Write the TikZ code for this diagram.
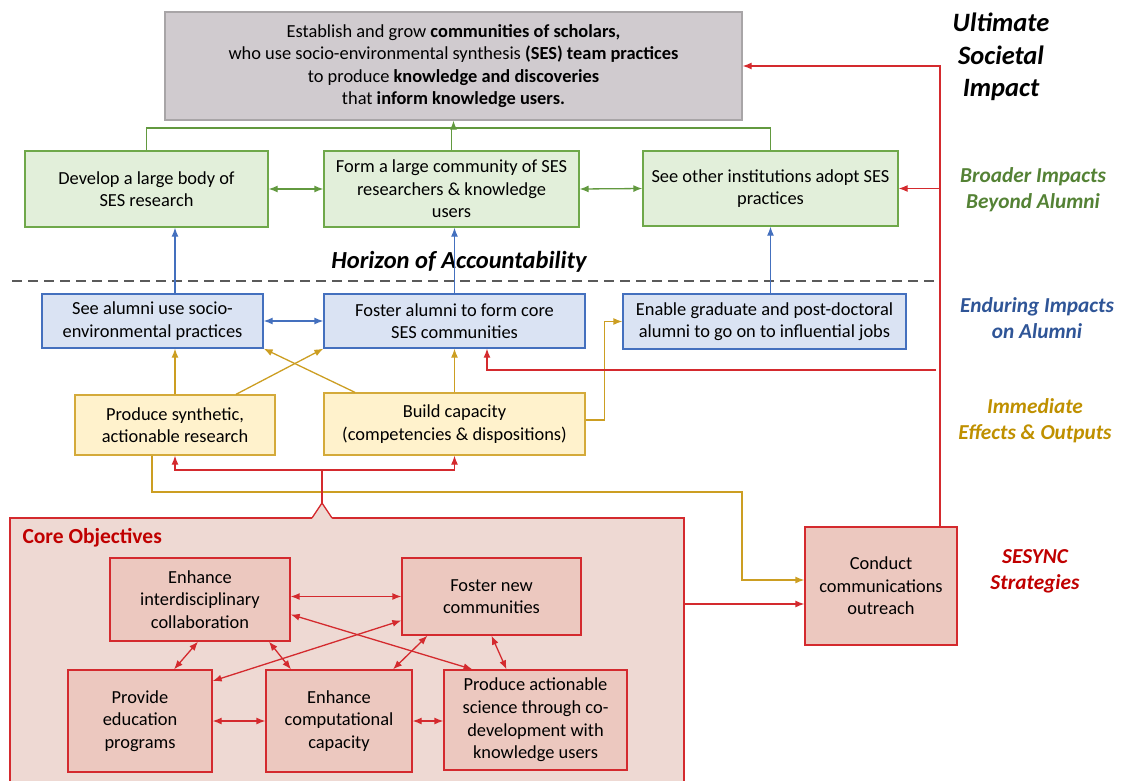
\documentclass[tikz,border=0pt]{standalone}
\usepackage{fontspec}
\setmainfont{Carlito}
\usetikzlibrary{arrows.meta,calc}

\definecolor{topfill}{HTML}{D0CBCF}
\definecolor{topdraw}{HTML}{A8A5A7}
\definecolor{greenfill}{HTML}{E2EFDA}
\definecolor{greendraw}{HTML}{6FA84A}
\definecolor{greenline}{HTML}{62993F}
\definecolor{greentext}{HTML}{548235}
\definecolor{bluefill}{HTML}{DAE3F3}
\definecolor{bluedraw}{HTML}{4470BE}
\definecolor{bluetext}{HTML}{2F5597}
\definecolor{goldfill}{HTML}{FFF2CC}
\definecolor{golddraw}{HTML}{D4AA3A}
\definecolor{goldline}{HTML}{CC9E22}
\definecolor{goldtext}{HTML}{BF9000}
\definecolor{redline}{HTML}{D42A2E}
\definecolor{redtext}{HTML}{C00000}
\definecolor{corefill}{HTML}{EED9D3}
\definecolor{objfill}{HTML}{ECC8BF}
\definecolor{dashgray}{HTML}{5A5A5A}

\begin{document}
\begin{tikzpicture}[x=1pt, y=-1pt, >={Latex[length=9pt,width=7pt]},
	every node/.style={font=\fontsize{18.4}{22.6}\selectfont, align=center},
	goal/.style={draw=topdraw, fill=topfill, line width=1.3pt},
	broad/.style={draw=greendraw, fill=greenfill, line width=1.3pt},
	alum/.style={draw=bluedraw, fill=bluefill, line width=1.3pt},
	effect/.style={draw=golddraw, fill=goldfill, line width=1.3pt},
	obj/.style={draw=redline, fill=objfill, line width=1.3pt},
	glink/.style={draw=greenline, line width=1.3pt},
	blink/.style={draw=bluedraw, line width=1.3pt},
	ylink/.style={draw=goldline, line width=1.3pt},
	rlink/.style={draw=redline, line width=1.3pt},
	tier/.style={font=\fontsize{21.3}{26}\selectfont\bfseries\itshape}]
	\useasboundingbox (0,0) rectangle (1122,780);

	% goal and broader impacts
	\node[goal, minimum width=577, minimum height=108] (goal) at (453.5,66)
		{Establish and grow \textbf{communities of scholars,}\\
		 who use socio-environmental synthesis \textbf{(SES) team practices}\\
		 to produce \textbf{knowledge and discoveries}\\
		 that \textbf{inform knowledge users.}};
	\node[broad, minimum width=243, minimum height=76] (g1) at (146.5,189) {Develop a large body of\\SES research};
	\node[broad, minimum width=255, minimum height=76] (g2) at (451.5,189) {Form a large community of SES\\researchers \& knowledge\\users};
	\node[broad, minimum width=255, minimum height=75] (g3) at (770.5,188.5) {See other institutions adopt SES\\practices};

	% alumni
	\node[alum, minimum width=221, minimum height=54] (b1) at (152.5,321) {See alumni use socio-\\environmental practices};
	\node[alum, minimum width=261, minimum height=54] (b2) at (454.5,321) {Foster alumni to form core\\SES communities};
	\node[alum, minimum width=283, minimum height=55] (b3) at (764.5,321.5) {Enable graduate and post-doctoral\\alumni to go on to influential jobs};

	% effects
	\node[effect, minimum width=200, minimum height=60] (y1) at (175,425) {Produce synthetic,\\actionable research};
	\node[effect, minimum width=261, minimum height=62] (y2) at (454.5,424) {Build capacity\\(competencies \& dispositions)};

	% core objectives
	\node[draw=redline, fill=corefill, line width=1.3pt, minimum width=674, minimum height=280] (core) at (347,658) {};
	\coordinate (notch) at (322,503);
	\fill[corefill] (312,519) -- (312,518) -- (notch) -- (332,518) -- (332,519) -- cycle;
	\draw[rlink] (312,518) -- (notch) -- (332,518);
	\node[anchor=west, text=redtext, font=\fontsize{21.5}{24}\selectfont\bfseries] (coretitle) at (19,538) {Core Objectives};

	\node[obj, minimum width=180, minimum height=83] (e1) at (200,599.5) {Enhance\\interdisciplinary\\collaboration};
	\node[obj, minimum width=179, minimum height=77] (fo) at (491.5,596.5) {Foster new\\communities};
	\node[obj, minimum width=144, minimum height=102] (pe) at (140,721) {Provide\\education\\programs};
	\node[obj, minimum width=146, minimum height=102] (ec) at (339,721) {Enhance\\computational\\capacity};
	\node[obj, minimum width=183, minimum height=100] (pa) at (535.5,720) {Produce actionable\\science through co-\\development with\\knowledge users};
	\node[obj, minimum width=152, minimum height=118] (conduct) at (881,586) {Conduct\\communications\\outreach};

	% tiers
	\node[font=\fontsize{26.5}{32.3}\selectfont\bfseries\itshape] (ultimate) at (1001,57) {Ultimate\\Societal\\Impact};
	\foreach \n/\x/\y/\c/\t in {broader/1033/190/greentext/{Broader Impacts\\Beyond Alumni},
		enduring/1037/318/bluetext/{Enduring Impacts\\on Alumni},
		immediate/1035/421/goldtext/{Immediate\\Effects \& Outputs},
		strategies/1035/571/redtext/{SESYNC\\Strategies}}
	{
		\node[tier, text=\c] (\n) at (\x,\y) {\t};
	}

	\node[font=\fontsize{24.5}{28}\selectfont\bfseries\itshape] (horizon) at (459,262) {Horizon of Accountability};
	\draw[draw=dashgray, line width=1.8pt, dash pattern=on 10pt off 6pt] (12,281) -- (935,281);

	% green links
	\coordinate (gjoin) at (goal.south |- 0,128);
	\draw[glink] (g1.north) |- (gjoin) -| (g3.north);
	\draw[glink] (g2.north) -- (g2.north |- gjoin);
	\draw[glink,->] (gjoin) -- (goal.south);
	\draw[glink,<->] (g1.east) -- (g2.west);
	\draw[glink,<->] (g2.east) -- (g3.west);

	% blue links
	\draw[blink,->] (b1.north -| y1.north) -- (g1.south -| y1.north);
	\draw[blink,->] (b2.north) -- (b2.north |- g2.south);
	\draw[blink,->] (b3.north -| g3.south) -- (g3.south);
	\draw[blink,<->] (b1.east) -- (b2.west);

	% gold links
	\draw[ylink,->] (y1.north) -- (y1.north |- b1.south);
	\draw[ylink,->] (y2.north) -- (b2.south);
	\draw[ylink,->] ([xshift=61pt]y1.north) -- (b2.south west);
	\draw[ylink,->] ([xshift=-99.5pt]y2.north) -- (b1.south east);
	\draw[ylink,->] ([yshift=4pt]y2.east) -- +(19,0) |- (b3.west);
	\coordinate (ybend) at (742,492);
	\draw[ylink,->] ([xshift=-23pt]y1.south) |- (ybend) |- ([yshift=6pt]conduct.west);

	% red links
	\coordinate (rsplit) at (322,470);
	\draw[rlink] (notch) -- (rsplit);
	\draw[rlink,->] (rsplit) -| (y1.south);
	\draw[rlink,->] (rsplit) -| (y2.south);
	\coordinate (rout) at ([yshift=-18pt]conduct.west);
	\draw[rlink,->] (core.east |- rout) -- (rout);
	\coordinate (rtop) at (940,66);
	\draw[rlink,->] (conduct.north -| rtop) -- (rtop) -- (goal.east);
	\draw[rlink,->] (rtop |- g3.east) -- (g3.east);
	\coordinate (rmid) at (936,370);
	\draw[rlink,->] (rmid) -| ([xshift=32.5pt]b2.south);

	% objective links
	\draw[rlink,<->] (e1.east |- fo.west) -- (fo.west);
	\draw[rlink,<->] ([yshift=-15pt]e1.east) -- ([xshift=-63pt]pa.north);
	\draw[rlink,<->] ([yshift=-24pt]fo.west) -- ([yshift=40pt]pe.east);
	\draw[rlink,<->] ([xshift=-2pt]e1.south) -- ([xshift=34pt]pe.north);
	\draw[rlink,<->] ([xshift=69pt]e1.south) -- ([xshift=-48pt]ec.north);
	\draw[rlink,<->] ([xshift=-64pt]fo.south) -- ([xshift=54pt]ec.north);
	\draw[rlink,<->] (fo.south) -- ([xshift=-29pt]pa.north);
	\draw[rlink,<->] (pe.east) -- (pe.east -| ec.west);
	\draw[rlink,<->] (ec.east) -- (ec.east -| pa.west);
\end{tikzpicture}
\end{document}
